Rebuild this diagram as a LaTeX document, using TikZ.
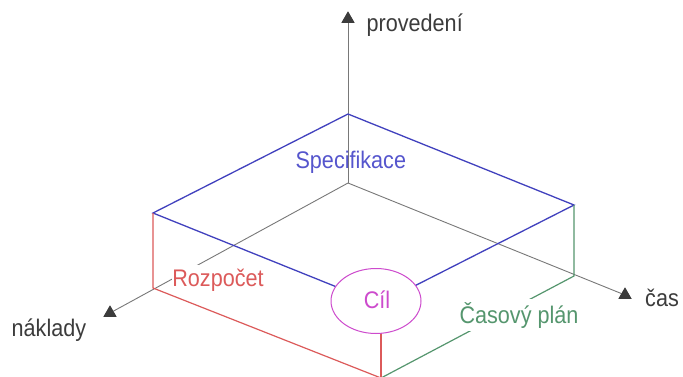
\documentclass[tikz,border=0pt]{standalone}
\usepackage{fontspec}
\setmainfont{Liberation Sans}[FakeStretch=0.9]
\usetikzlibrary{shapes.geometric}
\definecolor{axisgray}{RGB}{120,120,120}
\definecolor{labelgray}{RGB}{60,60,60}
\definecolor{faceblue}{RGB}{65,65,190}
\definecolor{specblue}{RGB}{85,85,205}
\definecolor{budgetred}{RGB}{220,90,90}
\definecolor{timegreen}{RGB}{85,150,110}
\definecolor{goalmag}{RGB}{205,75,205}
\begin{document}
\begin{tikzpicture}[x=1pt,y=-1pt,
  axis/.style={draw=axisgray,line width=0.9pt},
  tiptri/.style={regular polygon,regular polygon sides=3,fill=labelgray,
    inner sep=0pt,minimum size=15pt},
  axislabel/.style={text=labelgray,inner sep=0pt,anchor=base west,
    font=\fontsize{24}{28}\selectfont},
  facelabel/.style={inner sep=0pt,anchor=base,font=\fontsize{24}{28}\selectfont},
  blueedge/.style={draw=faceblue,line width=1.3pt},
  rededge/.style={draw=budgetred,line width=1.2pt},
  greenedge/.style={draw=timegreen,line width=1.2pt}]
\useasboundingbox (0,0) rectangle (683,376);
\fill[white] (0,0) rectangle (683,376);

% box corners
\coordinate (O)  at (348,183);  % back bottom = origin of the axes
\coordinate (TB) at (348,114);  % back top
\coordinate (TL) at (153,213);  % left top
\coordinate (TR) at (574,205);  % right top
\coordinate (TF) at (379,304);  % front top
\coordinate (BL) at (153,288);  % left bottom
\coordinate (BR) at (574,276);  % right bottom
\coordinate (BF) at (381,378);  % front bottom

% axis heads
\node[tiptri] (tipup)   at (348,19)  {};
\node[tiptri] (tipcost) at (110,313) {};
\node[tiptri] (tiptime) at (625,295) {};

% axes
\draw[axis] (O) -- (tipup.center);
\draw[axis] (O) -- (tipcost.center);
\draw[axis] (O) -- (tiptime.center);
\node[tiptri] at (tipup)   {};
\node[tiptri] at (tipcost) {};
\node[tiptri] at (tiptime) {};

% top face
\draw[blueedge] (TL) -- (TB) -- (TR) -- (TF) -- cycle;
% side faces
\draw[rededge] (TL) -- (BL) -- (BF);
\draw[greenedge] (TR) -- (BR) -- (BF);
% front vertical edge, mostly hidden by the goal
\draw[rededge] (BF) -- (BF |- TF);

% goal at the front corner
\node[draw=goalmag,line width=1pt,fill=white,ellipse,minimum width=90pt,
  minimum height=65pt,inner sep=0pt] (goal) at (376,301) {};
\node[facelabel,text=goalmag] (goaltext) at (377,308.3) {Cíl};

% labels
\node[axislabel] (upl)   at (366.5,31.7) {provedení};
\node[axislabel] (costl) at (11.5,336.7) {náklady};
\node[axislabel] (timel) at (645,306.7)  {čas};
\node[facelabel,text=specblue] (spec) at (350.8,168.3) {Specifikace};
\node[facelabel,text=budgetred,fill=white,inner xsep=0.5pt,inner ysep=3.5pt]
  (budget) at (218,286) {Rozpočet};
\node[facelabel,text=timegreen,fill=white,inner xsep=3pt,inner ysep=3pt]
  (plan) at (519,323.3) {Časový plán};
\end{tikzpicture}
\end{document}
